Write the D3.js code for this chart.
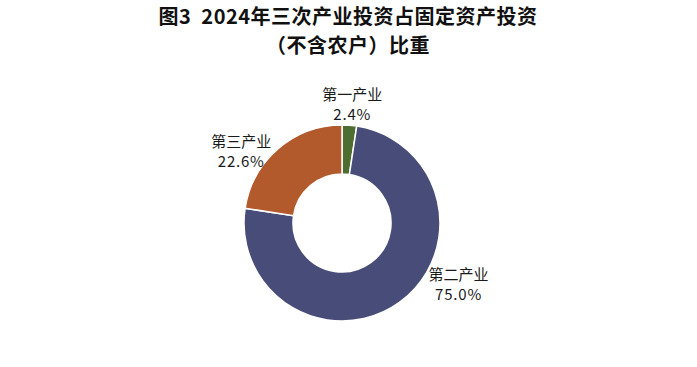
<!DOCTYPE html>
<html><head><meta charset="utf-8">
<script src="https://cdn.jsdelivr.net/npm/d3@7/dist/d3.min.js"></script>
<style>
html,body{margin:0;padding:0;background:#fff;}
svg{display:block;}
</style></head>
<body>
<svg id="chart" width="697" height="367"></svg>
<script>
const titleLines = ["图3\u00a0\u00a02024年三次产业投资占固定资产投资", "（不含农户）比重"];
const categories = ["第一产业", "第二产业", "第三产业"];
const values = [2.4, 75.0, 22.6];
const colors = ["#4e6e31", "#474c78", "#b25a2c"];

// label layout (angle in degrees clockwise from 12 o'clock, radius in px)
const labelAngleDeg = [5, 118, 305];
const labelRadius = [118, 132, 123];

const svg = d3.select("#chart");
const W = 697, H = 367;
const cx = 342, cy = 223, outerR = 98, innerR = 49;

svg.append("rect").attr("width", W).attr("height", H).attr("fill", "#fff");

titleLines.forEach((t, i) => {
  svg.append("text")
    .attr("x", 348).attr("y", 24 + i * 29)
    .attr("text-anchor", "middle")
    .attr("font-family", "'Noto Sans CJK SC', sans-serif")
    .attr("font-weight", "bold")
    .attr("font-size", 20)
    .attr("letter-spacing", 0.5)
    .attr("fill", "#111")
    .text(t);
});

const pie = d3.pie().sort(null).value(d => d)(values);
const arc = d3.arc().innerRadius(innerR).outerRadius(outerR);

const g = svg.append("g").attr("transform", `translate(${cx},${cy})`);
g.selectAll("path").data(pie).enter().append("path")
  .attr("d", arc)
  .attr("fill", (d, i) => colors[i])
  .attr("stroke", "#fff")
  .attr("stroke-width", 1.5);

const fmt = d3.format(".1f");
const lab = g.selectAll("g.lab").data(pie).enter().append("g")
  .attr("class", "lab")
  .attr("font-family", "'Noto Sans CJK SC', sans-serif")
  .attr("font-size", 15)
  .attr("fill", "#1a1a1a")
  .attr("text-anchor", "middle")
  .attr("transform", (d, i) => {
    const a = labelAngleDeg[i] * Math.PI / 180;
    const r = labelRadius[i];
    return `translate(${r * Math.sin(a)},${-r * Math.cos(a)})`;
  });
lab.append("text").attr("x", 0).attr("y", -5).text((d, i) => categories[i]);
lab.append("text").attr("x", 0).attr("y", 15).attr("letter-spacing", 0.8).text((d, i) => fmt(values[i]) + "%");
</script>
</body></html>
